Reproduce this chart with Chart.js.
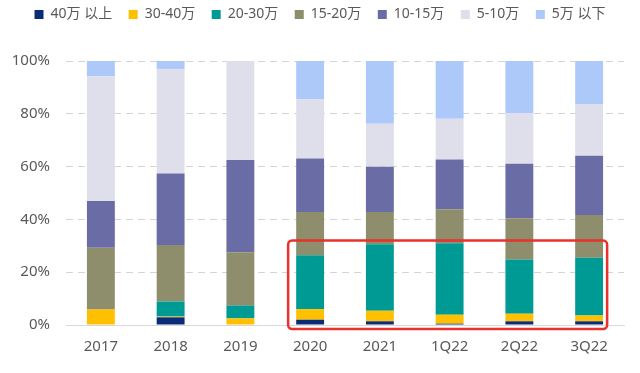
<!DOCTYPE html>
<html>
<head>
<meta charset="utf-8">
<script src="https://cdn.jsdelivr.net/npm/chart.js@4/dist/chart.umd.min.js"></script>
<style>
  html, body { margin: 0; padding: 0; background: #fff; }
  #wrap { width: 640px; height: 373px; }
</style>
</head>
<body>
<div id="wrap"><canvas id="chart" width="640" height="373"></canvas></div>
<script>
// categories and share of each price band (%)
const categories = ['2017', '2018', '2019', '2020', '2021', '1Q22', '2Q22', '3Q22'];
const seriesNames = ['40万 以上', '30-40万', '20-30万', '15-20万', '10-15万', '5-10万', '5万 以下'];
const over40  = [0,    2.9,  0,    2.0,  1.4,  0.5,  1.4,  1.4];
const b30to40 = [5.9,  0.3,  2.5,  4.0,  4.0,  3.4,  2.9,  2.2];
const b20to30 = [0,    5.7,  4.9,  20.4, 25.2, 27.1, 20.5, 21.9];
const b15to20 = [23.4, 21.4, 20.2, 16.4, 12.2, 12.8, 15.6, 16.2];
const b10to15 = [17.7, 27.1, 34.9, 20.3, 17.1, 18.9, 20.7, 22.4];
const b5to10  = [47.2, 39.6, 37.5, 22.5, 16.3, 15.4, 19.2, 19.4];
const under5  = [5.8,  3.0,  0,    14.4, 23.8, 21.9, 19.7, 16.5];
const yTicks = [0, 20, 40, 60, 80, 100];

const colors = ['#0a2c78', '#ffc000', '#009a94', '#8e8e6c', '#6a6ca6', '#dfdfeb', '#adc9fa'];
const values = [over40, b30to40, b20to30, b15to20, b10to15, b5to10, under5];

const textColor = '#595959';
const fontFamily = '"Noto Sans", "Noto Sans CJK SC", sans-serif';

// red highlight box around 2020 - 3Q22
const highlightBox = {
    id: 'highlightBox',
    afterDatasetsDraw(chart) {
        const x = chart.scales.x, y = chart.scales.y, ctx = chart.ctx;
        const left = x.getPixelForValue(3) - 22;
        const right = x.getPixelForValue(7) + 18;
        const top = y.getPixelForValue(32);
        const bottom = y.getPixelForValue(-1.5);
        ctx.save();
        ctx.strokeStyle = '#e8322b';
        ctx.lineWidth = 2.5;
        ctx.beginPath();
        ctx.roundRect(left, top, right - left, bottom - top, 4);
        ctx.stroke();
        ctx.restore();
    }
};

// push plot area down to match the reference, keep legend row near the top
const legendSpace = {
    id: 'legendSpace',
    beforeInit(chart) {
        const fit = chart.legend.fit;
        chart.legend.fit = function() {
            fit.bind(chart.legend)();
            this.height = 61;
        };
    },
    afterLayout(chart) {
        chart.legend.top -= 9;
        chart.legend.left += 8;
        chart.legend.right += 8;
    }
};

new Chart(document.getElementById('chart'), {
    type: 'bar',
    data: {
        labels: categories,
        datasets: seriesNames.map((name, i) => ({
            label: name,
            data: values[i],
            backgroundColor: colors[i],
            borderWidth: 0,
            barPercentage: 0.4,
            categoryPercentage: 1.0
        }))
    },
    options: {
        responsive: false,
        animation: false,
        layout: { padding: { left: 0, right: 16, top: 0, bottom: 0 } },
        plugins: {
            legend: {
                position: 'top',
                labels: {
                    boxWidth: 9,
                    boxHeight: 9,
                    padding: 16.5,
                    color: textColor,
                    font: { family: fontFamily, size: 14 }
                }
            },
            tooltip: { enabled: false }
        },
        scales: {
            x: {
                stacked: true,
                grid: { display: false, drawTicks: false },
                border: { display: true, color: '#d9d9d9', width: 1 },
                ticks: {
                    color: textColor,
                    padding: 13,
                    font: { family: fontFamily, size: 15 }
                },
                afterFit(scale) { scale.height = 48; }
            },
            y: {
                stacked: true,
                min: 0,
                max: 100,
                afterBuildTicks(scale) { scale.ticks = yTicks.map(v => ({ value: v })); },
                grid: { color: '#d4d4d4', drawTicks: false },
                border: { display: false, dash: [7, 5] },
                ticks: {
                    color: textColor,
                    padding: 16,
                    font: { family: fontFamily, size: 15 },
                    callback: v => v + '%'
                },
                afterFit(scale) { scale.width = 66; }
            }
        }
    },
    plugins: [legendSpace, highlightBox]
});
</script>
</body>
</html>
